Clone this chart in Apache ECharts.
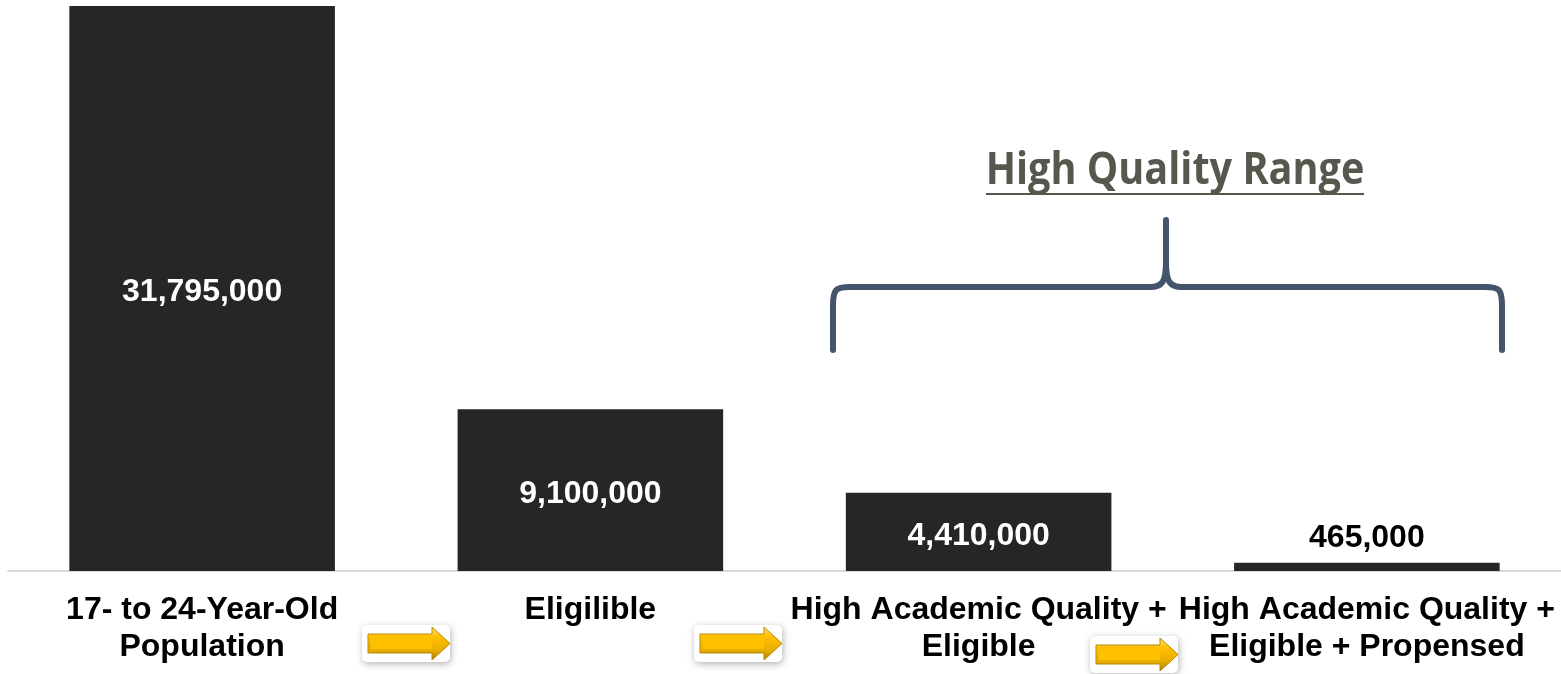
<!DOCTYPE html>
<html>
<head>
<meta charset="utf-8">
<script src="https://cdn.jsdelivr.net/npm/echarts@6/dist/echarts.min.js"></script>
<style>
  html, body { margin: 0; padding: 0; background: #ffffff; }
  #chart { width: 1561px; height: 674px; }
</style>
</head>
<body>
<div id="chart"></div>
<script>
// Recruiting funnel: population narrowing to the high-quality pool
const categories = [
  '17- to 24-Year-Old\nPopulation',
  'Eligilible',
  'High Academic Quality +\nEligible',
  'High Academic Quality +\nEligible + Propensed'
];
const counts = [31795000, 9100000, 4410000, 465000];
const rangeTitle = 'High Quality Range';

const fmt = v => v.toLocaleString('en-US');
const labelFont = '"Liberation Sans", Arial, sans-serif';

const chart = echarts.init(document.getElementById('chart'), null, { renderer: 'canvas' });

const barData = counts.map((v, i) => {
  const small = i === counts.length - 1;
  return {
    value: v,
    label: {
      show: true,
      position: small ? 'top' : 'inside',
      distance: 9,
      offset: small ? [0, 0] : [0, 4],
      color: small ? '#000000' : '#ffffff',
      fontSize: 32,
      fontWeight: 'bold',
      fontFamily: labelFont,
      formatter: p => fmt(p.value)
    }
  };
});

// Gold arrow placed between category labels
function arrow(x, y) {
  return {
    type: 'group',
    x: x, y: y,
    children: [
      {
        type: 'rect',
        shape: { x: 0, y: 0, width: 88, height: 37, r: 5 },
        style: { fill: '#ffffff', shadowBlur: 7, shadowColor: 'rgba(0,0,0,0.3)', shadowOffsetX: 1, shadowOffsetY: 2 }
      },
      {
        type: 'polygon',
        shape: { points: [[6, 9], [70, 9], [70, 2], [88, 18.5], [70, 35], [70, 28], [6, 28]] },
        style: {
          fill: new echarts.graphic.LinearGradient(0, 0, 0, 1, [
            { offset: 0, color: '#ffe27a' },
            { offset: 0.3, color: '#ffc000' },
            { offset: 0.7, color: '#e8ae00' },
            { offset: 1, color: '#a87d00' }
          ]),
          stroke: '#b88a00',
          lineWidth: 1
        }
      },
      {
        type: 'polygon',
        shape: { points: [[9, 13], [70, 13], [70, 24], [9, 24]] },
        style: { fill: '#ffc000' }
      }
    ]
  };
}

// Curly bracket spanning the last two categories
const braceStyle = { stroke: '#44546a', lineWidth: 6, lineCap: 'round', fill: null };
function seg(x1, y1, x2, y2) {
  return { type: 'line', shape: { x1, y1, x2, y2 }, style: braceStyle };
}
function curve(x1, y1, cpx1, cpy1, cpx2, cpy2, x2, y2) {
  return { type: 'bezierCurve', shape: { x1, y1, cpx1, cpy1, cpx2, cpy2, x2, y2 }, style: braceStyle };
}
const brace = [
  seg(833, 350, 833, 306),
  curve(833, 306, 833, 289, 836, 287, 850, 287),
  seg(850, 287, 1150, 287),
  curve(1150, 287, 1162, 287, 1166, 282, 1166, 262),
  seg(1166, 262, 1166, 220),
  curve(1166, 262, 1166, 282, 1170, 287, 1182, 287),
  seg(1182, 287, 1485, 287),
  curve(1485, 287, 1499, 287, 1502, 289, 1502, 306),
  seg(1502, 306, 1502, 350)
];

const option = {
  backgroundColor: '#ffffff',
  animation: false,
  grid: { left: 8, right: 0, top: 6, bottom: 103, containLabel: false },
  xAxis: {
    type: 'category',
    data: categories,
    axisLine: { show: true, lineStyle: { color: '#d9d9d9', width: 2 } },
    axisTick: { show: false },
    axisLabel: {
      interval: 0,
      margin: 21,
      color: '#000000',
      fontSize: 32,
      fontWeight: 'bold',
      lineHeight: 37,
      fontFamily: labelFont
    }
  },
  yAxis: {
    type: 'value',
    min: 0,
    max: 31795000,
    show: false,
    splitLine: { show: false }
  },
  series: [{
    type: 'bar',
    data: barData,
    barWidth: '68.4%',
    itemStyle: { color: '#262626' }
  }],
  graphic: [
    {
      type: 'text',
      x: 1175, y: 171,
      scaleX: 0.9,
      style: {
        text: rangeTitle,
        fill: '#57574d',
        font: 'bold 44px "Open Sans", "Noto Sans", sans-serif',
        align: 'center',
        verticalAlign: 'middle'
      }
    },
    {
      type: 'line',
      shape: { x1: 986, y1: 194, x2: 1364, y2: 194 },
      style: { stroke: '#57574d', lineWidth: 2 }
    }
  ].concat(brace, [
    arrow(362, 625),
    arrow(694, 625),
    arrow(1090, 636)
  ])
};

chart.setOption(option);
</script>
</body>
</html>
